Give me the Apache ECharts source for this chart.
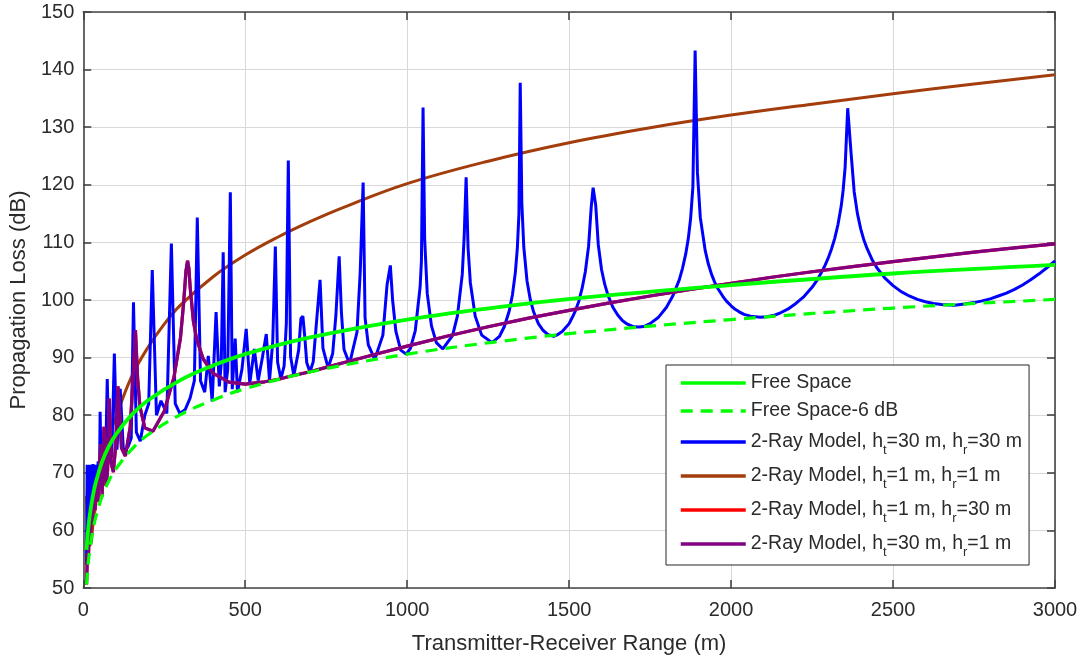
<!DOCTYPE html>
<html>
<head>
<meta charset="utf-8">
<title>Propagation Loss vs Range</title>
<script src="https://cdn.jsdelivr.net/npm/echarts@6/dist/echarts.min.js"></script>
<style>
  html, body { margin: 0; padding: 0; background: #fff; }
  #chart { width: 1081px; height: 660px; }
</style>
</head>
<body>
<div id="chart"></div>
<script>
// ---- Data (range in metres, loss in dB) ----
const xTicks = [0, 500, 1000, 1500, 2000, 2500, 3000];
const yTicks = [50, 60, 70, 80, 90, 100, 110, 120, 130, 140, 150];

const seriesNames = [
  'Free Space',
  'Free Space-6 dB',
  '2-Ray Model, h_t=30 m, h_r=30 m',
  '2-Ray Model, h_t=1 m, h_r=1 m',
  '2-Ray Model, h_t=1 m, h_r=30 m',
  '2-Ray Model, h_t=30 m, h_r=1 m'
];

const freeSpaceRange = [10, 15, 20, 30, 40, 60, 80, 100, 150, 200, 300, 400, 500, 700, 1000, 1300, 1600, 2000, 2500, 3000];
const freeSpaceLoss  = [56.6, 60.1, 62.6, 66.1, 68.6, 72.2, 74.7, 76.6, 80.1, 82.6, 86.1, 88.6, 90.6, 93.5, 96.6, 98.9, 100.7, 102.6, 104.6, 106.1];
const freeSpaceMinus6Loss = [50.6, 54.1, 56.6, 60.1, 62.6, 66.2, 68.7, 70.6, 74.1, 76.6, 80.1, 82.6, 84.6, 87.5, 90.6, 92.9, 94.7, 96.6, 98.6, 100.1];

const ray30x30Range = [
  10, 12, 14, 16, 19, 22, 26, 30, 34, 38, 42, 46, 50, 52, 56, 62, 68, 74, 80, 88,
  96, 104, 114, 124, 138, 148, 155, 164, 176, 190, 202, 213, 226, 240, 258, 272, 284, 298, 315, 330,
  343, 352, 362, 375, 386, 398, 410, 420, 426, 432, 438, 446, 454, 460, 469, 476, 490, 503, 514, 528,
  540, 553, 565, 575, 585, 593, 600, 610, 620, 627, 633, 640, 650, 665, 672, 678, 684, 690, 700, 710,
  720, 731, 740, 756, 770, 780, 790, 797, 805, 822, 845, 855, 864, 870, 880, 900, 925, 938, 948, 955,
  965, 980, 997, 1010, 1025, 1040, 1044, 1049, 1054, 1062, 1075, 1090, 1110, 1140, 1155, 1170, 1176, 1182, 1188, 1195,
  1210, 1230, 1262, 1285, 1300, 1315, 1325, 1334, 1340, 1345, 1349, 1354, 1360, 1370, 1380, 1390, 1405, 1420, 1435, 1452,
  1465, 1480, 1500, 1510, 1520, 1530, 1540, 1550, 1560, 1568, 1574, 1582, 1590, 1600, 1610, 1620, 1635, 1650, 1665, 1680,
  1700, 1715, 1730, 1750, 1775, 1800, 1820, 1840, 1850, 1860, 1868, 1875, 1882, 1889, 1896, 1905, 1920, 1930, 1940, 1950,
  1960, 1975, 1985, 2000, 2010, 2025, 2040, 2060, 2090, 2110, 2130, 2150, 2175, 2200, 2225, 2250, 2265, 2280, 2290, 2300,
  2310, 2320, 2330, 2340, 2346, 2352, 2360, 2370, 2380, 2390, 2400, 2410, 2420, 2435, 2450, 2475, 2500, 2525, 2550, 2575,
  2600, 2625, 2650, 2690, 2720, 2750, 2775, 2800, 2825, 2850, 2875, 2900, 2925, 2950, 2975, 3000
];
const ray30x30Loss = [
  54, 71.4, 60, 71.4, 62, 71.4, 64, 71.5, 65, 71.4, 66.5, 72, 68, 80.6, 68.5, 71.5, 69, 86.3, 72, 73,
  90.7, 74, 84.6, 73.7, 74.5, 76, 99.6, 77, 75.5, 80, 82, 105.2, 80, 82.5, 80.3, 109.8, 82, 80.3, 81, 83,
  86, 114.3, 86, 84, 90.3, 82.4, 97.9, 85, 89, 108.3, 84, 88, 118.7, 84.5, 93.3, 84, 88, 95, 85.5, 91.5,
  86, 90, 94.1, 86, 92.8, 109.3, 89.2, 86.3, 88.5, 96, 124.2, 90.2, 86.9, 91.3, 96.8, 97.2, 93.5, 89.1, 87.5, 89.3,
  96.1, 103.5, 91.6, 88.2, 90.7, 97.4, 107.6, 97.8, 91.4, 88.9, 94.4, 104.8, 120.4, 96.9, 92.2, 89.7, 93.9, 102.7, 106, 100,
  94.6, 91.3, 90.6, 91.6, 94.7, 102.3, 106.8, 133.4, 110.5, 101.1, 95.5, 92.6, 91.5, 93.8, 97.2, 104.4, 111, 121.3, 109, 103,
  97.2, 93.9, 92.6, 93.7, 95.4, 98.1, 100.9, 104.8, 108.9, 114.9, 137.7, 116.8, 109.2, 103.3, 100.1, 98, 95.9, 94.7, 94, 93.7,
  94, 94.6, 95.9, 97, 98.2, 99.8, 102, 104.9, 109.3, 116, 119.5, 116.5, 109.6, 105.3, 102.7, 100.8, 98.75, 97.4, 96.4, 95.8,
  95.35, 95.3, 95.4, 95.9, 96.95, 98.7, 100.7, 103.5, 105.5, 108, 110.7, 114.1, 119.6, 143.3, 122.2, 114.3, 108.6, 106.2, 104.4, 103,
  101.9, 100.6, 99.85, 99, 98.5, 97.95, 97.5, 97.2, 97, 97.1, 97.3, 97.7, 98.4, 99.4, 100.6, 102.2, 103.4, 104.9, 106, 107.3,
  108.85, 110.7, 113.1, 116.3, 119.1, 123, 133.3, 125.8, 118.8, 115, 112.4, 110.4, 108.9, 107.05, 105.6, 103.8, 102.5, 101.45, 100.7, 100.1,
  99.7, 99.4, 99.2, 99.1, 99.3, 99.55, 99.85, 100.2, 100.7, 101.2, 101.85, 102.6, 103.5, 104.5, 105.6, 106.8
];

const ray1x1Range = [10, 12, 16, 22, 30, 40, 50, 60, 80, 100, 150, 200, 250, 300, 400, 500, 600, 700, 800, 1000, 1250, 1500, 1750, 2000, 2250, 2500, 2750, 3000];
const ray1x1Loss  = [66, 62, 59, 57.5, 61, 65.1, 68.6, 71.5, 76.3, 79.6, 86.8, 91.8, 95.8, 99.1, 104, 107.8, 110.9, 113.6, 116, 120.2, 124.1, 127.3, 129.9, 132.1, 134, 135.8, 137.5, 139.1];

const ray30x1Range = [
  10, 13, 16, 19, 22, 25, 28, 32, 36, 40, 45, 50, 54, 58, 64, 70, 75, 80, 86, 93,
  100, 107, 112, 118, 130, 145, 155, 161, 168, 175, 190, 215, 250, 280, 300, 310, 317, 322, 326, 330,
  340, 350, 370, 400, 450, 500, 560, 600, 642, 700, 750, 800, 850, 917, 1000, 1125, 1250, 1375, 1500, 1625,
  1750, 1875, 2000, 2125, 2250, 2375, 2500, 2625, 2750, 2875, 3000
];
const ray30x1Loss = [
  50.6, 56, 55.5, 61, 58.5, 63.5, 61, 66, 63.5, 68.5, 65, 64.7, 75, 65.9, 78, 67.7, 70.3, 82.9, 71.7, 70.1,
  74.7, 85, 80.5, 74.3, 72.9, 78, 87.6, 94.8, 86.2, 81.5, 77.8, 77.2, 80.7, 86.6, 93.4, 99.6, 105, 106.8, 105.5, 102.2,
  96.3, 93.2, 89.8, 87.3, 85.75, 85.4, 85.8, 86.2, 86.8, 87.55, 88.3, 89.05, 89.8, 90.8, 92, 93.75, 95.35, 96.85, 98.2, 99.5,
  100.7, 101.85, 102.9, 103.95, 104.9, 105.8, 106.65, 107.5, 108.3, 109.05, 109.75
];
// Swapping transmitter and receiver heights gives the same path loss.
const ray1x30Range = ray30x1Range;
const ray1x30Loss = ray30x1Loss;

// ---- Chart ----
const FONT = '"Liberation Sans", Arial, Helvetica, sans-serif';
const AXIS_COLOR = '#444444';
const TEXT_COLOR = '#2b2b2b';

function pairs(xs, ys) { return xs.map((x, i) => [x, ys[i]]); }

function legendLabel(name) {
  // "h_t" / "h_r" -> h with subscript
  return name.split(/_([tr])/).map((part, i) =>
    i % 2 ? '{s|' + part + '}' : (part ? '{n|' + part + '}' : '')
  ).join('');
}

function boxAxis(base) {
  return Object.assign({
    type: 'value',
    axisLine: { show: true, onZero: false, lineStyle: { color: AXIS_COLOR, width: 1.6 } },
    axisTick: { show: true, inside: true, length: 8, lineStyle: { color: AXIS_COLOR, width: 1.6 } },
    axisLabel: { show: false },
    splitLine: { show: false }
  }, base);
}

const chart = echarts.init(document.getElementById('chart'), null, { renderer: 'canvas' });

const lineSeries = (name, xs, ys, color, width, z, opts) => Object.assign({
  name: name,
  type: 'line',
  data: pairs(xs, ys),
  symbol: 'none',
  smooth: false,
  z: z,
  lineStyle: { color: color, width: width, type: 'solid' },
  itemStyle: { color: color },
  emphasis: { disabled: true }
}, opts || {});

chart.setOption({
  animation: false,
  backgroundColor: '#ffffff',
  grid: { left: 83, right: 26, top: 12, bottom: 70, containLabel: false },
  xAxis: [
    boxAxis({
      min: xTicks[0], max: xTicks[xTicks.length - 1], interval: xTicks[1] - xTicks[0],
      axisLabel: { show: true, fontSize: 20, color: TEXT_COLOR, fontFamily: FONT, margin: 12, formatter: v => String(v) },
      splitLine: { show: true, lineStyle: { color: '#d9d9d9', width: 1 } },
      name: 'Transmitter-Receiver Range (m)',
      nameLocation: 'middle',
      nameGap: 45,
      nameTextStyle: { fontSize: 22, color: TEXT_COLOR, fontFamily: FONT }
    }),
    boxAxis({ position: 'top', min: xTicks[0], max: xTicks[xTicks.length - 1], interval: xTicks[1] - xTicks[0] })
  ],
  yAxis: [
    boxAxis({
      min: yTicks[0], max: yTicks[yTicks.length - 1], interval: yTicks[1] - yTicks[0],
      axisLabel: { show: true, fontSize: 20, color: TEXT_COLOR, fontFamily: FONT, margin: 9, formatter: v => String(v) },
      splitLine: { show: true, lineStyle: { color: '#d9d9d9', width: 1 } },
      name: 'Propagation Loss (dB)',
      nameLocation: 'middle',
      nameGap: 46,
      nameTextStyle: { fontSize: 22, color: TEXT_COLOR, fontFamily: FONT }
    }),
    boxAxis({ position: 'right', min: yTicks[0], max: yTicks[yTicks.length - 1], interval: yTicks[1] - yTicks[0] })
  ],
  legend: {
    show: true,
    orient: 'vertical',
    left: 666,
    top: 365,
    data: seriesNames,
    selectedMode: false,
    padding: [6, 7, 6, 13],
    itemGap: 4,
    itemWidth: 65,
    itemHeight: 14,
    itemStyle: { opacity: 0 },
    lineStyle: { width: 3.5 },
    backgroundColor: '#ffffff',
    borderColor: '#262626',
    borderWidth: 1,
    borderRadius: 0,
    formatter: legendLabel,
    textStyle: {
      color: TEXT_COLOR,
      fontFamily: FONT,
      fontSize: 19.5,
      lineHeight: 24,
      rich: {
        n: { fontSize: 19.5, lineHeight: 24, fontFamily: FONT, color: TEXT_COLOR },
        s: { fontSize: 13, lineHeight: 14, padding: [17, 0, 0, 0], fontFamily: FONT, color: TEXT_COLOR }
      }
    }
  },
  series: [
    lineSeries(seriesNames[0], freeSpaceRange, freeSpaceLoss, '#00ff00', 3.8, 7, { smooth: 0.4 }),
    lineSeries(seriesNames[1], freeSpaceRange, freeSpaceMinus6Loss, '#00ff00', 3.2, 6,
      { smooth: 0.4, lineStyle: { color: '#00ff00', width: 3.2, type: [12, 8] } }),
    lineSeries(seriesNames[2], ray30x30Range, ray30x30Loss, '#0000ff', 3, 3),
    lineSeries(seriesNames[3], ray1x1Range, ray1x1Loss, '#a33d0c', 3, 2, { smooth: 0.4 }),
    lineSeries(seriesNames[4], ray1x30Range, ray1x30Loss, '#ff0000', 3.2, 4),
    lineSeries(seriesNames[5], ray30x1Range, ray30x1Loss, '#800080', 3.2, 5)
  ]
});
</script>
</body>
</html>
